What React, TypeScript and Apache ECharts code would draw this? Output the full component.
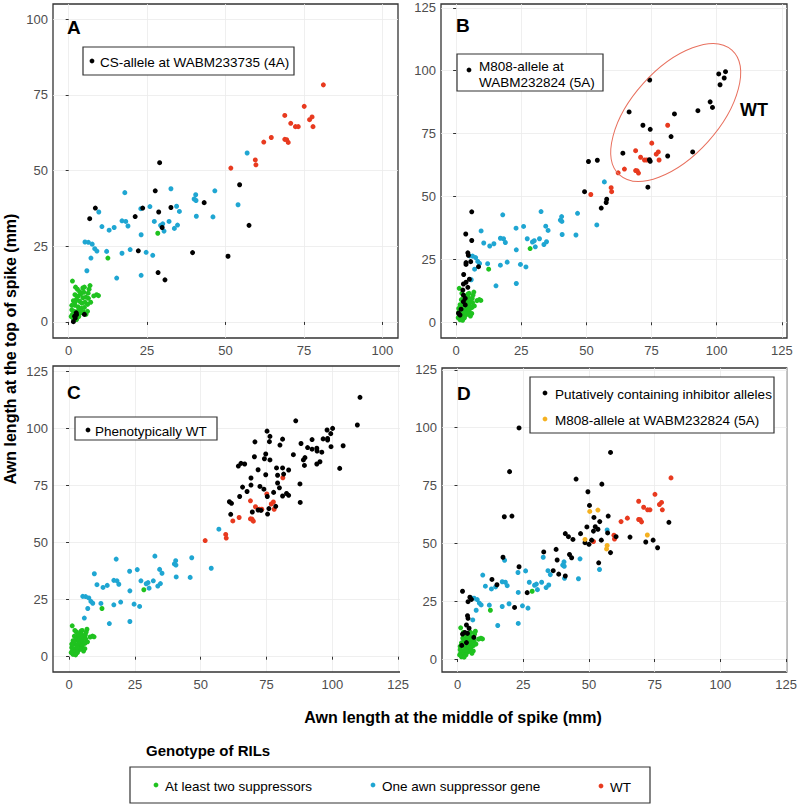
import React, { useEffect, useRef } from "react";
import * as echarts from "echarts";

const FONT = '"Liberation Sans", Arial, Helvetica, sans-serif';

// Base genotype groups shared by all panels
const greenBase: number[][] = [
  [28.4, 29.3], [12.5, 21.1],
  [1.2, 13.5], [2.8, 10.8], [4.5, 11.2], [5.0, 11.5], [6.8, 12.0], [6.5, 10.8], [8.0, 8.6], [8.9, 9.0],
  [9.5, 8.7], [2.0, 9.0], [3.0, 8.5], [3.8, 9.2], [4.5, 8.0], [5.5, 8.2], [6.3, 7.8], [1.5, 7.0],
  [2.5, 7.5], [3.5, 6.8], [4.2, 6.2], [5.2, 6.5], [6.0, 5.8], [2.0, 5.5], [3.0, 5.0], [4.0, 4.5],
  [5.0, 4.8], [1.0, 4.0], [1.8, 3.5], [2.8, 3.2], [3.8, 3.0], [4.6, 3.4], [1.2, 2.5], [2.2, 2.0],
  [3.2, 1.8], [1.5, 1.0], [2.5, 0.8], [0.8, 1.8], [6.0, 3.5], [7.0, 6.5], [5.5, 2.5], [1.0, 5.5],
  [3.5, 10.0], [2.2, 11.5], [4.8, 9.8], [6.2, 9.5], [3.2, 4.0], [2.0, 6.5],
];

const blueBase: number[][] = [
  [56.9, 55.8], [17.9, 42.7], [32.6, 44.0], [46.6, 43.3], [40.5, 42.0], [40.0, 40.6], [40.6, 40.1],
  [34.4, 38.2], [25.9, 38.1], [23.0, 37.4], [9.6, 36.3], [35.3, 36.5], [40.7, 34.9], [46.0, 34.7],
  [17.0, 33.4], [18.2, 33.2], [27.3, 33.2], [29.3, 31.9], [30.0, 32.4], [32.0, 33.2], [34.7, 32.0],
  [33.7, 30.9], [30.4, 30.0], [10.6, 31.5], [14.5, 31.2], [12.9, 30.3], [18.9, 31.7], [23.1, 28.8],
  [5.2, 26.4], [6.3, 26.3], [7.5, 25.7], [8.3, 24.2], [9.0, 23.4], [12.1, 23.3], [19.6, 23.9],
  [24.7, 23.0], [26.8, 22.0], [17.0, 22.7], [7.1, 21.1], [5.8, 16.9], [15.3, 14.5], [23.1, 15.4],
  [54.0, 38.7],
];

const redBase: number[][] = [
  [81.2, 78.3], [75.1, 71.2], [68.9, 68.2], [77.6, 67.7], [76.8, 66.8], [70.8, 65.6], [72.3, 64.5],
  [73.2, 64.5], [77.9, 64.5], [64.6, 60.9], [62.2, 59.4], [68.9, 60.3], [69.5, 60.2], [70.0, 59.3],
  [59.5, 53.5], [59.7, 51.9], [51.7, 50.8],
];

// Panel A: CS-allele at WABM233735 (4A)
const blackA: number[][] = [
  [29.0, 52.6], [54.5, 45.3], [27.6, 43.3], [43.2, 39.4], [8.5, 37.6], [23.6, 37.6], [32.6, 37.8],
  [28.7, 36.3], [21.2, 34.8], [6.7, 34.1], [29.8, 31.2], [57.5, 31.9], [22.2, 23.5], [39.5, 22.9],
  [50.8, 21.7], [28.5, 16.3], [30.7, 13.9], [1.5, 0.1], [1.9, 1.9], [2.5, 2.4], [5.0, 2.5],
  [2.1, 1.3], [2.4, 3.0],
];

// Panel B: M808-allele at WABM232824 (5A)
const blackB: number[][] = [
  [66.4, 83.6], [74.3, 96.3], [71.7, 78.3], [74.5, 76.7], [83.8, 82.8], [82.5, 73.8], [92.8, 84.1],
  [97.5, 87.6], [98.4, 85.4], [100.8, 98.7], [103.4, 99.6], [102.9, 97.1], [101.3, 94.4], [64.0, 67.2],
  [74.2, 64.6], [74.5, 64.0], [81.2, 66.1], [90.8, 67.7], [73.6, 53.7], [50.8, 63.9], [54.2, 64.4],
  [49.3, 51.9], [57.8, 48.9], [57.6, 47.6], [55.7, 45.4], [6.0, 43.9], [3.7, 35.1], [6.0, 32.5],
  [4.5, 27.6], [4.7, 26.6], [3.8, 23.7], [3.8, 23.0], [5.6, 24.1], [8.6, 22.1], [2.9, 19.0],
  [3.8, 15.9], [5.1, 17.1], [2.8, 15.2], [4.5, 13.9], [2.6, 12.8], [2.8, 10.8], [3.5, 9.5],
  [2.8, 8.2], [3.5, 6.9], [1.9, 5.2], [0.9, 3.6], [1.5, 2.9],
];

// Panel C: Phenotypically WT
const blackC: number[][] = [
  [110.5, 113.5], [109.5, 101.4], [86.1, 103.2], [75.2, 98.7], [76.3, 96.4], [76.1, 94.1], [81.1, 95.2],
  [70.6, 94.0], [80.1, 92.6], [88.1, 93.3], [92.3, 95.0], [96.5, 95.3], [98.0, 99.2], [100.1, 99.9],
  [99.4, 97.6], [98.2, 95.5], [98.2, 94.8], [104.1, 92.3], [99.5, 91.9], [94.1, 91.2], [94.2, 90.0],
  [92.3, 90.8], [89.6, 87.1], [85.2, 88.4], [70.4, 87.5], [74.2, 86.6], [76.3, 86.1], [74.7, 88.7],
  [64.3, 83.4], [65.3, 84.6], [66.7, 84.3], [71.8, 81.8], [78.8, 82.6], [81.1, 82.6], [83.4, 81.7],
  [89.0, 86.1], [89.4, 83.7], [94.1, 84.3], [95.3, 85.3], [102.8, 82.4], [74.7, 79.6], [79.2, 79.4],
  [69.1, 78.2], [65.9, 74.2], [69.1, 75.1], [67.6, 72.3], [72.5, 74.5], [74.0, 73.3], [79.9, 73.9],
  [79.2, 76.0], [81.5, 79.9], [77.7, 71.9], [81.1, 70.3], [82.6, 71.4], [83.4, 70.6], [87.7, 75.6],
  [87.8, 67.5], [64.8, 70.1], [75.3, 70.1], [78.5, 65.8], [60.9, 67.8], [61.7, 67.1], [61.4, 62.3],
  [69.6, 63.3], [71.8, 64.2], [75.4, 62.4], [72.9, 64.0], [75.9, 64.8], [96.0, 89.5], [90.6, 91.5],
];

// Panel D: Putatively containing inhibitor alleles
const blackD: number[][] = [
  [23.4, 99.9], [58.2, 89.3], [19.8, 81.0], [45.1, 77.8], [54.9, 75.6], [49.6, 72.3], [50.2, 66.4],
  [17.8, 61.5], [20.7, 61.8], [57.3, 61.8], [51.9, 61.2], [54.1, 59.4], [49.2, 57.1], [52.4, 57.2],
  [51.7, 55.3], [53.4, 56.1], [57.1, 54.5], [80.4, 59.1], [41.0, 54.2], [42.2, 52.9], [43.9, 51.7],
  [46.8, 54.2], [48.5, 50.3], [50.0, 49.6], [51.0, 51.4], [54.7, 51.4], [60.3, 52.9], [65.6, 52.7],
  [71.6, 50.6], [74.4, 51.4], [76.1, 48.1], [58.2, 46.0], [53.7, 41.6], [32.8, 46.3], [37.5, 47.4],
  [37.9, 42.8], [42.6, 45.2], [43.4, 43.8], [41.0, 35.9], [36.4, 38.2], [38.5, 36.7], [23.4, 39.9],
  [17.3, 44.0], [13.1, 34.4], [15.0, 32.1], [26.5, 28.7], [21.7, 22.3], [1.9, 29.3], [4.7, 26.7],
  [5.3, 25.8], [4.0, 24.8], [3.8, 18.7], [4.0, 17.6], [3.4, 14.7], [4.4, 13.3], [2.8, 11.5],
  [1.9, 10.8], [3.8, 11.1], [3.4, 7.1], [1.6, 5.9], [6.2, 9.4],
];

// Panel D: M808-allele at WABM232824 (5A)
const yellowD: number[][] = [
  [50.3, 63.8], [53.4, 64.4], [48.5, 51.7], [56.9, 49.1], [56.7, 47.6], [72.2, 53.6],
];

const tickVals = [0, 25, 50, 75, 100, 125];

const GREEN = "#1fc21f";
const BLUE = "#1fa6d2";
const RED = "#e83a1f";
const BLACK = "#000000";
const YELLOW = "#f5b120";

type Panel = {
  left: number; top: number; width: number; height: number;
  xmin: number; xmax: number; ymin: number; ymax: number; border: boolean;
};

const panels: Panel[] = [
  { left: 53, top: 4, width: 345, height: 334, xmin: -5, xmax: 105, ymin: -5.3, ymax: 105, border: true },
  { left: 441, top: 4, width: 346, height: 334, xmin: -5.8, xmax: 127, ymin: -6.25, ymax: 126.5, border: true },
  { left: 53, top: 366, width: 347, height: 306, xmin: -6.1, xmax: 125.7, ymin: -6.7, ymax: 127.2, border: false },
  { left: 442, top: 368, width: 345, height: 304, xmin: -5.9, xmax: 125.2, ymin: -5.6, ymax: 125.8, border: true },
];

const App: React.FC = () => {
  const ref = useRef<HTMLDivElement>(null);

  useEffect(() => {
    if (!ref.current) return;
    const chart = echarts.init(ref.current, undefined, { renderer: "svg" });

    const grid = panels.map((p) => ({
      left: p.left, top: p.top, width: p.width, height: p.height,
      show: true, borderColor: "#333333", borderWidth: p.border ? 1.3 : 0, backgroundColor: "#ffffff",
    }));

    const mkAxis = (i: number, which: "x" | "y") => {
      const p = panels[i];
      const min = which === "x" ? p.xmin : p.ymin;
      const max = which === "x" ? p.xmax : p.ymax;
      const vals = tickVals.filter((v) => v >= min && v <= max + 0.5);
      return {
        type: "value",
        gridIndex: i,
        min, max,
        axisLine: { show: false },
        axisTick: { show: true, length: 3, inside: false, customValues: vals, lineStyle: { color: "#333333", width: 1 } },
        axisLabel: {
          customValues: vals,
          color: "#4d4d4d", fontSize: 13, fontFamily: FONT,
          margin: which === "x" ? 6 : 5,
          showMinLabel: true, showMaxLabel: true,
        },
        splitLine: { show: true, lineStyle: { color: "#ebebeb", width: 0.8 } },
      };
    };

    const sc = (i: number, data: number[][], color: string, size = 5) => ({
      type: "scatter",
      xAxisIndex: i, yAxisIndex: i,
      data, symbolSize: size,
      itemStyle: { color, opacity: 1 },
      silent: true,
    });

    const series: any[] = [];
    for (let i = 0; i < 4; i++) {
      series.push(sc(i, greenBase, GREEN), sc(i, blueBase, BLUE), sc(i, redBase, RED));
    }
    series.push(sc(0, blackA, BLACK), sc(1, blackB, BLACK), sc(2, blackC, BLACK), sc(3, blackD, BLACK), sc(3, yellowD, YELLOW));

    const txt = (x: number, y: number, text: string, size: number, bold = false, extra: any = {}, rotation = 0) => ({
      type: "text", x, y, rotation, silent: true,
      style: { text, fontSize: size, fontFamily: FONT, fontWeight: bold ? "bold" : "normal", fill: "#000", textVerticalAlign: "middle", ...extra },
      z: 100,
    });
    const dot = (x: number, y: number, color: string, r = 2.4) => ({
      type: "circle", shape: { cx: x, cy: y, r }, style: { fill: color }, silent: true, z: 100,
    });
    const box = (x: number, y: number, w: number, h: number) => ({
      type: "rect", shape: { x, y, width: w, height: h }, style: { fill: "#fff", stroke: "#333", lineWidth: 1.2 }, silent: true, z: 99,
    });

    const pc = panels[2];
    const graphic: any[] = [
      // panel C frame: left, top and bottom edges (its right edge is hidden under panel D)
      {
        type: "polyline", silent: true, z: 50,
        shape: {
          points: [
            [pc.left + pc.width, pc.top], [pc.left, pc.top],
            [pc.left, pc.top + pc.height], [pc.left + pc.width, pc.top + pc.height],
          ],
        },
        style: { stroke: "#333333", lineWidth: 1.3, fill: "none" },
      },
      // panel letters
      txt(67, 27, "A", 19, true),
      txt(456, 25, "B", 19, true),
      txt(67, 392, "C", 19, true),
      txt(457, 393, "D", 19, true),
      // legend A
      box(83, 47, 211, 28),
      dot(92, 61, BLACK),
      txt(100, 62, "CS-allele at WABM233735 (4A)", 13.5),
      // legend B
      box(457, 54, 146, 37),
      dot(469, 70, BLACK),
      txt(479, 66, "M808-allele at", 13.5),
      txt(479, 82, "WABM232824 (5A)", 13.5),
      // WT ellipse + label
      {
        type: "ellipse", x: 675.7, y: 112.5, rotation: (48 * Math.PI) / 180,
        shape: { cx: 0, cy: 0, rx: 84, ry: 43.6 },
        style: { fill: "none", stroke: "#e8705e", lineWidth: 1 }, silent: true, z: 98,
      },
      txt(740, 110, "WT", 18, true),
      // legend C
      box(75, 417, 142, 23),
      dot(88, 430, BLACK),
      txt(95, 431, "Phenotypically WT", 13.5),
      // legend D
      box(530, 377, 244, 56),
      dot(545, 393, BLACK),
      txt(555, 394, "Putatively containing inhibitor alleles", 13.5),
      dot(545, 419, YELLOW),
      txt(555, 420, "M808-allele at WABM232824 (5A)", 13.5),
      // axis titles
      txt(10, 349, "Awn length at the top of spike (mm)", 16, true, { textAlign: "center" }, Math.PI / 2),
      txt(453, 717, "Awn length at the middle of spike (mm)", 16, true, { textAlign: "center" }),
      // bottom legend
      txt(146, 750, "Genotype of RILs", 15, true),
      box(130, 767, 520, 36),
      dot(156, 785, GREEN),
      txt(165, 786, "At least two suppressors", 13.5),
      dot(373, 785, BLUE),
      txt(382, 786, "One awn suppressor gene", 13.5),
      dot(601, 786, RED),
      txt(610, 787, "WT", 13.5),
    ];

    chart.setOption({
      animation: false,
      backgroundColor: "#ffffff",
      grid,
      xAxis: panels.map((_, i) => mkAxis(i, "x")),
      yAxis: panels.map((_, i) => mkAxis(i, "y")),
      series,
      graphic,
    });

    return () => chart.dispose();
  }, []);

  return (
    <div
      ref={ref}
      style={{ position: "fixed", left: 0, top: 0, width: 800, height: 806, background: "#fff" }}
    />
  );
};

export default App;
